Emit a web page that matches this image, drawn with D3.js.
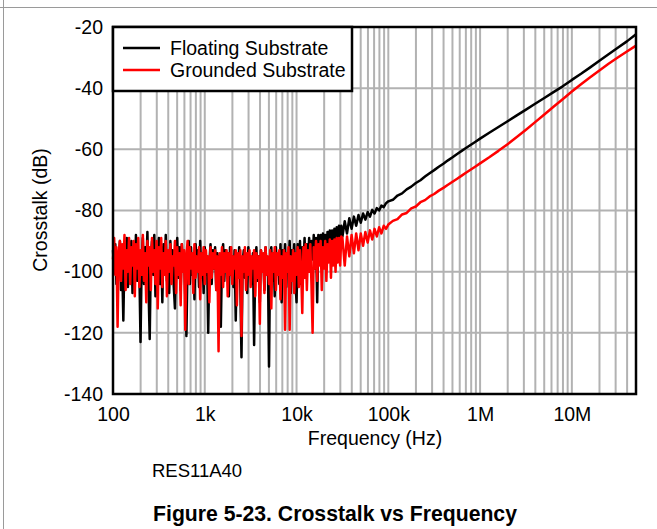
<!DOCTYPE html>
<html>
<head>
<meta charset="utf-8">
<script src="https://cdn.jsdelivr.net/npm/d3@7"></script>
<style>
  html, body { margin: 0; padding: 0; background: #fff; }
  svg { display: block; font-family: "Liberation Sans", Arial, sans-serif; }
</style>
</head>
<body>
<svg id="chart" width="657" height="529"></svg>
<script>
// ---- data ----
const freqs = [
  100,102.9,105.9,109,112.2,115.5,118.9,122.3,125.9,129.6,133.4,137.2,141.3,145.4,149.6,154,158.5,163.1,167.9,172.8,
  177.8,183,188.4,193.9,199.5,205.4,211.4,217.5,223.9,230.4,237.1,244.1,251.2,258.5,266.1,273.8,281.8,290.1,298.5,307.3,
  316.2,325.5,335,344.8,354.8,365.2,375.8,386.8,398.1,409.7,421.7,434,446.7,459.7,473.2,487,501.2,515.8,530.9,546.4,
  562.3,578.8,595.7,613.1,631,649.4,668.3,687.9,707.9,728.6,749.9,771.8,794.3,817.5,841.4,866,891.3,917.3,944.1,971.6,
  1000,1029,1059,1090,1122,1155,1189,1223,1259,1296,1334,1372,1413,1454,1496,1540,1585,1631,1679,1728,
  1778,1830,1884,1939,1995,2054,2113,2175,2239,2304,2371,2441,2512,2585,2661,2738,2818,2901,2985,3073,
  3162,3255,3350,3448,3548,3652,3758,3868,3981,4097,4217,4340,4467,4597,4732,4870,5012,5158,5309,5464,
  5623,5788,5957,6131,6310,6494,6683,6879,7079,7286,7499,7718,7943,8175,8414,8660,8913,9173,9441,9716,
  10000,10292,10593,10902,11220,11548,11885,12232,12589,12957,13335,13725,14125,14538,14962,15399,15849,16312,16788,17278,
  17783,18302,18836,19387,19953,20535,21135,21752,22387,23041,23714,24406,25119,25852,26607,27384,28184,29007,29854,30726,
  31623,33497,35481,37584,39811,42170,44668,47315,50119,53088,56234,59566,63096,66834,70795,74989,79433,84140,89125,94406,
  100000,112202,125893,141254,158489,177828,199526,223872,251189,281838,316228,354813,398107,446684,501187,562341,630957,707946,794328,891251,
  1e6,1.2589e6,1.5849e6,1.9953e6,2.5119e6,3.1623e6,3.9811e6,5.0119e6,6.3096e6,7.9433e6,1e7,1.2589e7,1.5849e7,1.9953e7,2.5119e7,3.1623e7,3.9811e7,5e7
];

const floating = [
  -93,-100,-91,-104,-95,-99,-90,-106,-97,-116,-94,-101,-89,-105,-92,-98,-90,-107,-93,-102,
  -88,-103,-95,-100,-123,-96,-89,-104,-92,-99,-87,-106,-122,-95,-90,-101,-88,-108,-94,-99,
  -89,-104,-92,-110,-91,-100,-88,-103,-95,-107,-90,-99,-93,-105,-112,-94,-89,-102,-92,-106,
  -91,-100,-94,-108,-121,-97,-90,-104,-92,-101,-95,-109,-91,-99,-93,-105,-90,-102,-94,-107,
  -92,-101,-95,-120,-97,-91,-104,-93,-99,-92,-106,-94,-102,-95,-118,-96,-91,-103,-93,-100,
  -94,-108,-92,-101,-95,-105,-93,-116,-96,-100,-92,-104,-128,-97,-93,-102,-95,-107,-92,-100,
  -96,-104,-94,-124,-97,-92,-103,-95,-110,-93,-100,-95,-106,-92,-101,-96,-131,-95,-92,-103,
  -94,-108,-92,-100,-95,-104,-91,-110,-93,-99,-91,-105,-94,-100,-90,-107,-93,-98,-91,-103,
  -110,-91,-100,-90,-104,-92,-98,-89,-102,-91,-97,-89,-100,-90,-96,-88,-99,-89,-110,-88,
  -95,-88,-97,-87.5,-94,-88,-96,-87,-93,-86.5,-94,-86.5,-92,-86,-91.5,-85.5,-92,-85,-90.5,-85,
  -88.5,-83.5,-87.5,-82.5,-86,-82,-85,-81.5,-84,-81,-83,-80.5,-82,-79.8,-81,-79.2,-80,-78.4,-78.9,-77.6,
  -77.0,-76.5,-75.1,-74.4,-73.1,-72.2,-71.0,-70.1,-68.9,-67.8,-66.8,-65.7,-64.7,-63.6,-62.6,-61.5,-60.5,-59.5,-58.5,-57.5,
  -56.5,-54.6,-52.7,-50.8,-48.9,-47.0,-45.1,-43.2,-41.3,-39.4,-37.3,-35.3,-33.2,-31.0,-28.9,-26.8,-24.7,-22.4
];

const grounded = [
  -96,-89,-101,-92,-118,-94,-90,-103,-91,-99,-88,-106,-93,-100,-89,-104,-92,-98,-90,-108,
  -91,-99,-89,-105,-93,-101,-88,-103,-94,-110,-90,-98,-92,-106,-89,-100,-93,-104,-90,-112,
  -92,-99,-89,-105,-94,-101,-90,-108,-93,-100,-91,-104,-95,-98,-90,-107,-92,-101,-94,-111,
  -91,-100,-93,-119,-95,-90,-104,-92,-99,-94,-107,-91,-102,-95,-100,-92,-109,-94,-101,-92,
  -104,-93,-100,-95,-110,-92,-102,-94,-99,-93,-106,-95,-126,-94,-101,-92,-105,-94,-100,-93,
  -108,-94,-101,-92,-104,-95,-99,-93,-111,-94,-102,-93,-121,-95,-100,-92,-106,-94,-101,-93,
  -105,-95,-99,-93,-108,-94,-102,-95,-117,-93,-100,-94,-107,-92,-101,-95,-104,-93,-112,-94,
  -100,-92,-106,-94,-101,-93,-109,-95,-102,-93,-119,-94,-100,-92,-119,-95,-103,-93,-107,-94,
  -101,-92,-105,-93,-99,-113.5,-92,-102,-91,-106,-93,-100,-91,-104,-120,-92,-99,-90,-103,-91,
  -98,-90,-106,-92,-99,-90,-103,-91,-97,-89.5,-102,-90,-98,-89.5,-100,-89,-97,-89,-98,-88.5,
  -89,-98,-88.5,-95,-88,-94,-87.5,-93,-87.5,-91.5,-87,-90.5,-86.5,-89.5,-86,-88.5,-85.5,-87.5,-85,-86,
  -84.6,-83.4,-82.8,-81.3,-80.8,-79.3,-78.7,-77.3,-76.6,-75.4,-74.6,-73.5,-72.6,-71.6,-70.6,-69.6,-68.6,-67.6,-66.6,-65.6,
  -64.6,-62.6,-60.5,-58.3,-56.0,-53.6,-51.1,-48.6,-46.1,-43.6,-41.1,-38.7,-36.4,-34.2,-32.0,-30.0,-28.0,-26.1
];

const seriesNames = ["Floating Substrate", "Grounded Substrate"];
const seriesColors = ["#000000", "#ff0000"];
const xTickValues = [100, 1e3, 1e4, 1e5, 1e6, 1e7];
const xTickLabels = ["100", "1k", "10k", "100k", "1M", "10M"];
const yTickValues = [-20, -40, -60, -80, -100, -120, -140];
const xDomain = [100, 5e7];
const yDomain = [-140, -20];

// ---- layout ----
const svg = d3.select("#chart");
const L = 113, R = 636, T = 27, B = 394;
const x = d3.scaleLog().domain(xDomain).range([L, R]);
const y = d3.scaleLinear().domain(yDomain).range([B, T]);
const FS = 19.5;

// page border lines
svg.append("line").attr("x1", 0).attr("x2", 657).attr("y1", 7.5).attr("y2", 7.5)
  .attr("stroke", "#9a9a9a").attr("stroke-width", 1);
svg.append("line").attr("x1", 3.5).attr("x2", 3.5).attr("y1", 0).attr("y2", 529)
  .attr("stroke", "#9a9a9a").attr("stroke-width", 1);

// grid
const gridX = [];
for (let d = 100; d <= 1e7; d *= 10) {
  for (let k = 1; k <= 9; k++) {
    const v = d * k;
    if (v > xDomain[0] && v < xDomain[1]) gridX.push(v);
  }
}
const grid = svg.append("g").attr("stroke", "#b2b2b2").attr("stroke-width", 2);
grid.selectAll("line.gx").data(gridX).enter().append("line")
  .attr("x1", d => x(d)).attr("x2", d => x(d)).attr("y1", T).attr("y2", B);
grid.selectAll("line.gy").data(yTickValues.slice(1, -1)).enter().append("line")
  .attr("x1", L).attr("x2", R).attr("y1", d => y(d)).attr("y2", d => y(d));

// curves (Grounded drawn over Floating)
const rows = freqs.map((f, i) => ({ f, a: floating[i], b: grounded[i] }));
const lineA = d3.line().x(d => x(d.f)).y(d => y(d.a));
const lineB = d3.line().x(d => x(d.f)).y(d => y(d.b));
svg.append("path").datum(rows).attr("d", lineA)
  .attr("fill", "none").attr("stroke", seriesColors[0]).attr("stroke-width", 2.5)
  .attr("stroke-linejoin", "round");
svg.append("path").datum(rows).attr("d", lineB)
  .attr("fill", "none").attr("stroke", seriesColors[1]).attr("stroke-width", 2.5)
  .attr("stroke-linejoin", "round");

// frame
svg.append("rect").attr("x", L).attr("y", T).attr("width", R - L).attr("height", B - T)
  .attr("fill", "none").attr("stroke", "#000").attr("stroke-width", 2.5);

// axes
const yAxis = d3.axisLeft(y).tickValues(yTickValues).tickSize(0).tickPadding(10)
  .tickFormat(d => String(d));
const gy = svg.append("g").attr("transform", `translate(${L},0)`).call(yAxis);
gy.select(".domain").remove();
gy.selectAll("text").attr("font-size", FS).attr("font-family", "Liberation Sans, Arial, sans-serif").attr("fill", "#000");

const xAxis = d3.axisBottom(x).tickValues(xTickValues).tickSize(0).tickPadding(13)
  .tickFormat((d, i) => xTickLabels[i]);
const gx = svg.append("g").attr("transform", `translate(0,${B})`).call(xAxis);
gx.select(".domain").remove();
gx.selectAll("text").attr("font-size", FS).attr("font-family", "Liberation Sans, Arial, sans-serif").attr("fill", "#000");

// axis titles
svg.append("text").attr("x", 375).attr("y", 445).attr("text-anchor", "middle")
  .attr("font-size", FS).text("Frequency (Hz)");
svg.append("text").attr("transform", "translate(47,210) rotate(-90)").attr("text-anchor", "middle")
  .attr("font-size", FS).text("Crosstalk (dB)");

// legend
const lg = svg.append("g");
lg.append("rect").attr("x", L).attr("y", T).attr("width", 352 - L).attr("height", 91 - T)
  .attr("fill", "#fff").attr("stroke", "#000").attr("stroke-width", 2.5);
seriesNames.forEach((name, i) => {
  const yy = 48 + i * 22;
  lg.append("line").attr("x1", 123).attr("x2", 160).attr("y1", yy).attr("y2", yy)
    .attr("stroke", seriesColors[i]).attr("stroke-width", 2.5);
  lg.append("text").attr("x", 170).attr("y", yy + 7).attr("font-size", FS).text(name);
});

// captions
svg.append("text").attr("x", 152).attr("y", 477).attr("font-size", 18.5).text("RES11A40");
svg.append("text").attr("x", 335).attr("y", 521).attr("text-anchor", "middle")
  .attr("font-size", 21.2).attr("font-weight", "bold").text("Figure 5-23. Crosstalk vs Frequency");
</script>
</body>
</html>
